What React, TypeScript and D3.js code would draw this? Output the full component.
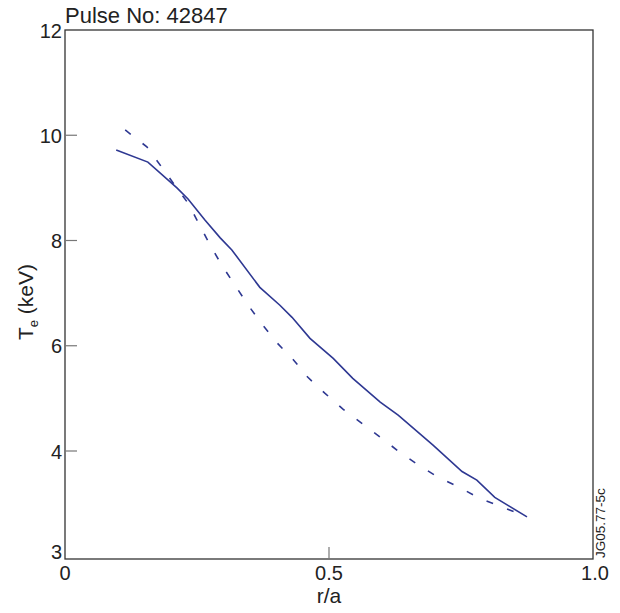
import React from 'react'
import * as d3 from 'd3'

const width = 620
const height = 613
const margin = { top: 30, right: 27, bottom: 54, left: 65 }

// r/a positions and Te (keV) for the two profiles
const solidR = [0.097, 0.157, 0.212, 0.233, 0.265, 0.294, 0.316, 0.369, 0.407, 0.43, 0.464, 0.508, 0.545, 0.597, 0.631, 0.697, 0.752, 0.78, 0.814, 0.875]
const solidTe = [9.72, 9.49, 9.0, 8.79, 8.39, 8.05, 7.82, 7.11, 6.77, 6.54, 6.14, 5.76, 5.38, 4.93, 4.68, 4.11, 3.81, 3.73, 3.57, 3.39]
const dashedR = [0.114, 0.155, 0.182, 0.208, 0.233, 0.275, 0.297, 0.322, 0.347, 0.373, 0.402, 0.432, 0.46, 0.492, 0.527, 0.6, 0.631, 0.669, 0.706, 0.748, 0.786, 0.828, 0.875]
const dashedTe = [10.1, 9.78, 9.41, 9.05, 8.71, 7.91, 7.53, 7.15, 6.77, 6.41, 6.05, 5.74, 5.4, 5.1, 4.79, 4.24, 4.0, 3.87, 3.76, 3.66, 3.56, 3.48, 3.39]

const yTicks = [3, 4, 6, 8, 10, 12]
const xTicks = [0, 0.5, 1.0]
const xTickLabels = ['0', '0.5', '1.0']

const lineColor = '#2e3892'
const axisColor = '#333'
const font = 'Liberation Sans, Arial, Helvetica, sans-serif'

const App = () => {
    const x = d3
        .scaleLinear()
        .domain([0, 1])
        .range([margin.left, width - margin.right])
    // the published axis jumps from 4 straight down to 3 at the frame bottom
    const y = d3
        .scaleLinear()
        .domain([3, 4, 12])
        .range([height - margin.bottom, 451, margin.top])

    const line = d3
        .line<[number, number]>()
        .x((d) => x(d[0]))
        .y((d) => y(d[1]))

    const solid = line(solidR.map((r, i) => [r, solidTe[i]]))
    const dashed = line(dashedR.map((r, i) => [r, dashedTe[i]]))

    const x0 = x(0)
    const x1 = x(1)
    const yTop = y(12)
    const yBot = y(3)

    return (
        <svg
            width={width}
            height={height}
            style={{ position: 'absolute', left: 0, top: 0 }}
            fontFamily={font}
        >
            <rect x={0} y={0} width={width} height={height} fill="#fff" />
            <path d={dashed || ''} fill="none" stroke={lineColor} strokeWidth={1.6} strokeDasharray="7 15" />
            <path d={solid || ''} fill="none" stroke={lineColor} strokeWidth={1.6} />

            {/* frame */}
            <rect x={x0} y={yTop} width={x1 - x0} height={yBot - yTop} fill="none" stroke={axisColor} strokeWidth={1.3} />

            {/* y ticks */}
            {yTicks.map((t) => (
                <g key={t}>
                    {t !== 3 && t !== 12 && (
                        <line x1={x0} x2={x0 + 12} y1={y(t)} y2={y(t)} stroke="#777" strokeWidth={1.2} />
                    )}
                    <text x={x0 - 3} y={t === 3 ? y(t) : y(t) + 7.5} textAnchor="end" fontSize={20} fill="#222">
                        {t}
                    </text>
                </g>
            ))}

            {/* x ticks */}
            {xTicks.map((t, i) => (
                <g key={t}>
                    {t > 0 && t < 1 && (
                        <line x1={x(t)} x2={x(t)} y1={yBot} y2={yBot - 12} stroke="#777" strokeWidth={1.2} />
                    )}
                    <text x={t === 1 ? x(t) + 2 : x(t)} y={yBot + 21} textAnchor="middle" fontSize={20} fill="#222">
                        {xTickLabels[i]}
                    </text>
                </g>
            ))}

            <text x={x(0.5)} y={height - 10} textAnchor="middle" fontSize={21} fill="#222">
                r/a
            </text>

            <text transform={`translate(33, 302) rotate(-90)`} textAnchor="middle" fontSize={21} fill="#222">
                T<tspan fontSize={13} dy={5}>e</tspan>
                <tspan dy={-5}> (keV)</tspan>
            </text>

            <text x={x0} y={yTop - 7} fontSize={22} fill="#222">
                Pulse No: 42847
            </text>

            <text transform={`translate(${x1 + 12}, ${yBot - 1}) rotate(-90)`} fontSize={13.5} fill="#222">
                JG05.77-5c
            </text>
        </svg>
    )
}

export default App
